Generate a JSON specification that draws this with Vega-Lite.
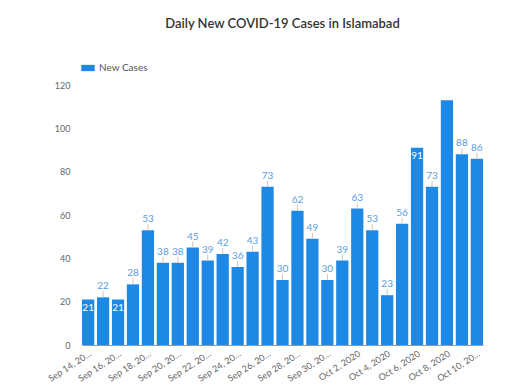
{
  "$schema": "https://vega.github.io/schema/vega-lite/v6.json",
  "width": 401,
  "height": 260,
  "autosize": "none",
  "padding": {"left": 82, "top": 85, "right": 37, "bottom": 46},
  "config": {
    "font": "Lato",
    "view": {"stroke": null}
  },
  "title": {
    "text": "Daily New COVID-19 Cases in Islamabad",
    "fontSize": 13,
    "fontWeight": 600,
    "color": "#333333",
    "anchor": "middle",
    "offset": 30
  },
  "data": {
    "values": [
      {"date": "2020-09-14", "cases": 21},
      {"date": "2020-09-15", "cases": 22},
      {"date": "2020-09-16", "cases": 21},
      {"date": "2020-09-17", "cases": 28},
      {"date": "2020-09-18", "cases": 53},
      {"date": "2020-09-19", "cases": 38},
      {"date": "2020-09-20", "cases": 38},
      {"date": "2020-09-21", "cases": 45},
      {"date": "2020-09-22", "cases": 39},
      {"date": "2020-09-23", "cases": 42},
      {"date": "2020-09-24", "cases": 36},
      {"date": "2020-09-25", "cases": 43},
      {"date": "2020-09-26", "cases": 73},
      {"date": "2020-09-27", "cases": 30},
      {"date": "2020-09-28", "cases": 62},
      {"date": "2020-09-29", "cases": 49},
      {"date": "2020-09-30", "cases": 30},
      {"date": "2020-10-01", "cases": 39},
      {"date": "2020-10-02", "cases": 63},
      {"date": "2020-10-03", "cases": 53},
      {"date": "2020-10-04", "cases": 23},
      {"date": "2020-10-05", "cases": 56},
      {"date": "2020-10-06", "cases": 91},
      {"date": "2020-10-07", "cases": 73},
      {"date": "2020-10-08", "cases": 113},
      {"date": "2020-10-09", "cases": 88},
      {"date": "2020-10-10", "cases": 86}
    ]
  },
  "encoding": {
    "x": {
      "field": "date",
      "type": "ordinal",
      "timeUnit": "utcyearmonthdate",
      "scale": {"paddingInner": 0.18, "paddingOuter": 0},
      "axis": {
        "title": null,
        "labelExpr": "utcdate(datum.value) % 2 == 0 ? utcFormat(datum.value, '%b %-d, %Y') : ''",
        "labelAngle": -33,
        "labelAlign": "right",
        "labelBaseline": "top",
        "labelLimit": 50,
        "labelFontSize": 9,
        "labelColor": "#666666",
        "labelPadding": 4,
        "ticks": false,
        "domainColor": "#999999",
        "labelOverlap": false
      }
    },
    "y": {
      "field": "cases",
      "type": "quantitative",
      "scale": {"domain": [0, 120]},
      "axis": {
        "title": null,
        "values": [0, 20, 40, 60, 80, 100, 120],
        "grid": false,
        "domain": false,
        "ticks": false,
        "labelFontSize": 9,
        "labelColor": "#666666",
        "labelPadding": 12
      }
    }
  },
  "layer": [
    {
      "mark": {"type": "bar", "color": "#1e88e5"},
      "encoding": {
        "color": {
          "datum": "New Cases",
          "scale": {"range": ["#1e88e5"]},
          "legend": {
            "title": null,
            "orient": "none",
            "legendX": -1,
            "legendY": -24,
            "symbolType": "M-1,-0.47h2v0.94h-2z",
            "symbolSize": 180,
            "symbolStrokeWidth": 0,
            "symbolOpacity": 1,
            "labelFontSize": 10,
            "labelColor": "#555555",
            "labelOffset": 4
          }
        }
      }
    },
    {
      "transform": [{"filter": "datum.cases != 21 && datum.cases != 91 && datum.cases != 113"}],
      "mark": {"type": "rule", "color": "#d8c4b4", "strokeWidth": 1, "y2Offset": -6},
      "encoding": {"y2": {"field": "cases"}}
    },
    {
      "transform": [{"filter": "datum.cases != 21 && datum.cases != 91 && datum.cases != 113"}],
      "mark": {"type": "text", "color": "#5a9de0", "fontSize": 10, "baseline": "bottom", "dy": -6},
      "encoding": {"text": {"field": "cases", "type": "quantitative"}}
    },
    {
      "transform": [{"filter": "datum.cases == 21 || datum.cases == 91"}],
      "mark": {"type": "text", "color": "#ffffff", "fontSize": 10, "baseline": "top", "dy": 3},
      "encoding": {"text": {"field": "cases", "type": "quantitative"}}
    }
  ]
}
